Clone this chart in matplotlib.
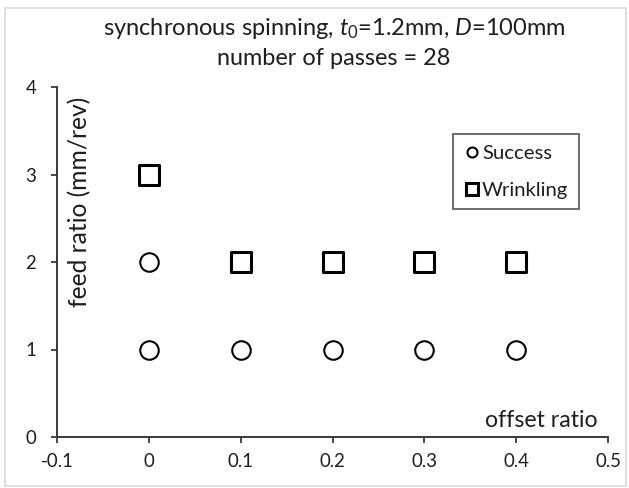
import matplotlib
matplotlib.use("Agg")
import matplotlib.pyplot as plt
from matplotlib.lines import Line2D
from matplotlib.patches import Rectangle

plt.rcParams['font.family'] = ['Lato', 'DejaVu Sans']
plt.rcParams['mathtext.fontset'] = 'custom'
plt.rcParams['mathtext.it'] = 'Lato:italic'
plt.rcParams['mathtext.rm'] = 'Lato'

# Experimental outcomes: offset ratio vs feed ratio
success_offset = [0.0, 0.1, 0.2, 0.3, 0.4, 0.0]
success_feed = [1, 1, 1, 1, 1, 2]
wrinkling_offset = [0.0, 0.1, 0.2, 0.3, 0.4]
wrinkling_feed = [3, 2, 2, 2, 2]

x_ticks = [-0.1, 0, 0.1, 0.2, 0.3, 0.4, 0.5]
x_tick_labels = ['-0.1', '0', '0.1', '0.2', '0.3', '0.4', '0.5']
y_ticks = [0, 1, 2, 3, 4]

W, H = 629, 488
fig = plt.figure(figsize=(W / 100, H / 100), dpi=100)
ax = fig.add_axes([57 / W, 51 / H, (608 - 57) / W, (437 - 87) / H])
renderer = fig.canvas.get_renderer()


def px(x, y):
    """Pixel position (from top-left) to figure fraction."""
    return x / W, 1 - y / H


def fit(text, target, vertical=False):
    """Scale a text's font size so its extent spans `target` pixels."""
    for _ in range(3):
        bb = text.get_window_extent(renderer)
        size = bb.height if vertical else bb.width
        text.set_fontsize(text.get_fontsize() * target / size)
    return text.get_fontsize()


def fitted_size(s, target):
    t = fig.text(0, 0, s, fontsize=12)
    size = fit(t, target)
    t.remove()
    return size


axis_color = '#3a3a3a'
text_color = '#1e1e1e'
ax.scatter(success_offset, success_feed, marker='o', s=178, facecolors='white',
           edgecolors='black', linewidths=1.5, zorder=3, clip_on=False)
ax.scatter(wrinkling_offset, wrinkling_feed, marker='s', s=188, facecolors='white',
           edgecolors='black', linewidths=2.2, zorder=3, clip_on=False)

ax.set_xlim(-0.1, 0.5)
ax.set_ylim(0, 4)
ax.set_xticks(x_ticks)
ax.set_xticklabels(x_tick_labels)
ax.set_yticks(y_ticks)

for side in ('top', 'right'):
    ax.spines[side].set_visible(False)
for side in ('left', 'bottom'):
    ax.spines[side].set_color(axis_color)
    ax.spines[side].set_linewidth(1.4)

tick_size = fitted_size('0.4', 26)
ax.tick_params(axis='x', direction='out', length=4.5, width=1.3, color=axis_color,
               labelsize=tick_size, labelcolor=text_color, pad=7)
ax.tick_params(axis='y', direction='out', length=4, width=1.3, color=axis_color,
               labelsize=tick_size, labelcolor=text_color, pad=11)

# Axis titles sit inside the plotting area
ylab = fig.text(*px(80, 201.5), 'feed ratio (mm/rev)', rotation=90, ha='center',
                va='center', color=text_color, fontsize=16)
fit(ylab, 210, vertical=True)
xlab = fig.text(*px(541.5, 427), 'offset ratio', ha='center', va='baseline',
                color=text_color, fontsize=16)
fit(xlab, 113)

t1 = fig.text(*px(334, 35), r'synchronous spinning, $\it{t}_{\it{0}}$=1.2mm, $\it{D}$=100mm',
              ha='center', va='baseline', color=text_color, fontsize=16)
fit(t1, 462)
t2 = fig.text(*px(334, 65), 'number of passes = 28', ha='center', va='baseline',
              color=text_color, fontsize=16)
fit(t2, 233)

# Legend
leg_size = fitted_size('Wrinkling', 86.6)
F = leg_size * 100 / 72
probe = fig.text(0, 0, 'Wrinkling', fontsize=leg_size)
th = probe.get_window_extent(renderer).height
probe.remove()

handles = [
    Line2D([], [], ls='none', marker='o', markersize=7.2, mfc='white', mec='black', mew=1.5),
    Line2D([], [], ls='none', marker='s', markersize=8.4, mfc='white', mec='black', mew=2.2),
]
leg = ax.legend(handles, ['Success', 'Wrinkling'], loc='upper left',
                bbox_to_anchor=px(453, 134), bbox_transform=fig.transFigure,
                frameon=True, fancybox=False, edgecolor=axis_color, fontsize=leg_size,
                borderpad=max((75 - 37 - th) / (2 * F), 0.1),
                labelspacing=max((37 - th) / F, 0.1),
                handlelength=16 / F, handletextpad=2.5 / F, borderaxespad=0)
leg.get_frame().set_linewidth(1.3)
for txt in leg.get_texts():
    txt.set_color(text_color)

fig.patches.append(Rectangle((5 / W, 2 / H), 621 / W, 478 / H,
                             transform=fig.transFigure, fill=False,
                             edgecolor='#d9d9d9', linewidth=1.2))

fig.savefig('out.png', dpi=100)
